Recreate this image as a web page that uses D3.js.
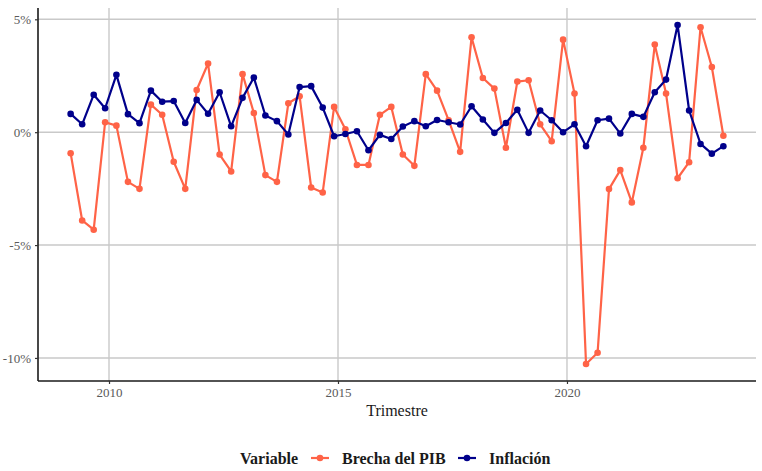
<!DOCTYPE html>
<html>
<head>
<meta charset="utf-8">
<script src="https://cdn.jsdelivr.net/npm/d3@7"></script>
<style>
  body { margin: 0; background: #fff; }
  svg text { font-family: "Liberation Serif", "Times New Roman", serif !important; }
</style>
</head>
<body>
<div id="chart"></div>
<script>
var width = 762;
var height = 471;

// quarterly dates, 2009 Q1 .. 2023 Q2
var quarters = [
  "2009-03-01","2009-06-01","2009-09-01","2009-12-01",
  "2010-03-01","2010-06-01","2010-09-01","2010-12-01",
  "2011-03-01","2011-06-01","2011-09-01","2011-12-01",
  "2012-03-01","2012-06-01","2012-09-01","2012-12-01",
  "2013-03-01","2013-06-01","2013-09-01","2013-12-01",
  "2014-03-01","2014-06-01","2014-09-01","2014-12-01",
  "2015-03-01","2015-06-01","2015-09-01","2015-12-01",
  "2016-03-01","2016-06-01","2016-09-01","2016-12-01",
  "2017-03-01","2017-06-01","2017-09-01","2017-12-01",
  "2018-03-01","2018-06-01","2018-09-01","2018-12-01",
  "2019-03-01","2019-06-01","2019-09-01","2019-12-01",
  "2020-03-01","2020-06-01","2020-09-01","2020-12-01",
  "2021-03-01","2021-06-01","2021-09-01","2021-12-01",
  "2022-03-01","2022-06-01","2022-09-01","2022-12-01",
  "2023-03-01","2023-06-01"
];

// Brecha del PIB (%)
var brecha = [
  -0.93, -3.91, -4.32, 0.44, 0.29, -2.20, -2.51, 1.22, 0.77, -1.31, -2.51,
  1.87, 3.04, -0.99, -1.74, 2.57, 0.85, -1.90, -2.20, 1.28, 1.59, -2.45,
  -2.67, 1.12, 0.13, -1.45, -1.45, 0.77, 1.12, -0.99, -1.49, 2.57, 1.84,
  0.53, -0.87, 4.20, 2.40, 1.93, -0.69, 2.24, 2.30, 0.35, -0.40, 4.10,
  1.71, -10.27, -9.77, -2.52, -1.68, -3.11, -0.69, 3.88, 1.71, -2.04,
  -1.33, 4.65, 2.89, -0.16
];

// Inflación (%)
var inflacion = [
  0.81, 0.35, 1.66, 1.06, 2.54, 0.80, 0.40, 1.84, 1.35, 1.38, 0.41,
  1.43, 0.82, 1.77, 0.26, 1.52, 2.42, 0.74, 0.49, -0.10, 2.00, 2.04,
  1.09, -0.18, -0.08, 0.04, -0.80, -0.12, -0.30, 0.25, 0.49, 0.26, 0.54,
  0.44, 0.34, 1.15, 0.56, -0.03, 0.41, 0.99, -0.03, 0.96, 0.53, 0.00,
  0.35, -0.62, 0.53, 0.60, -0.06, 0.81, 0.68, 1.77, 2.33, 4.75, 0.96,
  -0.52, -0.95, -0.62
];

var seriesNames = ["Brecha del PIB", "Inflación"];
var seriesColors = ["#ff6347", "#00008b"];
var yTicks = [5, 0, -5, -10];
var xTickYears = [2010, 2015, 2020];

var serif = "'Liberation Serif', 'Times New Roman', serif";
var margin = { left: 38, right: 6, top: 8, bottom: 90 };

var parse = d3.timeParse("%Y-%m-%d");
var dates = quarters.map(parse);

var svg = d3.select("#chart")
  .append("svg")
  .attr("width", width)
  .attr("height", height)
  .attr("font-family", serif)
  .style("background-color", "white");

// ggplot-like 5% expansion on both axes
var tExt = d3.extent(dates);
var tPad = (tExt[1] - tExt[0]) * 0.05;
var x = d3.scaleTime()
  .domain([new Date(+tExt[0] - tPad), new Date(+tExt[1] + tPad)])
  .range([margin.left, width - margin.right]);

var allVals = brecha.concat(inflacion);
var yExt = d3.extent(allVals);
var yPad = (yExt[1] - yExt[0]) * 0.05;
var y = d3.scaleLinear()
  .domain([yExt[0] - yPad, yExt[1] + yPad])
  .range([height - margin.bottom, margin.top]);

var xTicks = xTickYears.map(function (yr) { return new Date(yr, 0, 1); });

// grid
svg.append("g")
  .selectAll("line")
  .data(yTicks)
  .join("line")
  .attr("x1", margin.left)
  .attr("x2", width - margin.right)
  .attr("y1", function (d) { return y(d); })
  .attr("y2", function (d) { return y(d); })
  .attr("stroke", "#c9c9c9")
  .attr("stroke-width", 1.4);

svg.append("g")
  .selectAll("line")
  .data(xTicks)
  .join("line")
  .attr("x1", function (d) { return x(d); })
  .attr("x2", function (d) { return x(d); })
  .attr("y1", margin.top)
  .attr("y2", height - margin.bottom)
  .attr("stroke", "#c9c9c9")
  .attr("stroke-width", 1.4);

// axes
var xAxis = svg.append("g")
  .attr("transform", "translate(0," + (height - margin.bottom) + ")")
  .call(d3.axisBottom(x).tickValues(xTicks).tickFormat(d3.timeFormat("%Y")).tickSize(3).tickPadding(4));

var yAxis = svg.append("g")
  .attr("transform", "translate(" + margin.left + ",0)")
  .call(d3.axisLeft(y).tickValues(yTicks).tickFormat(function (d) { return d + "%"; }).tickSize(3).tickPadding(4));

[xAxis, yAxis].forEach(function (ax) {
  ax.attr("font-family", serif).attr("font-size", 13);
  ax.select(".domain").attr("stroke", "#1a1a1a").attr("stroke-width", 1.6);
  ax.selectAll(".tick line").attr("stroke", "#333").attr("stroke-width", 1.2);
  ax.selectAll(".tick text").attr("fill", "#5a5a5a");
});
// keep the axis lines to the panel only
xAxis.select(".domain").attr("d", "M" + margin.left + ",0H" + (width - margin.right));
yAxis.select(".domain").attr("d", "M0," + margin.top + "V" + (height - margin.bottom));

// axis title
svg.append("text")
  .attr("x", (margin.left + width - margin.right) / 2)
  .attr("y", 416)
  .attr("text-anchor", "middle")
  .attr("font-size", 16)
  .attr("fill", "#1a1a1a")
  .text("Trimestre");

// series
var series = [brecha, inflacion];
var line = d3.line()
  .x(function (d, i) { return x(dates[i]); })
  .y(function (d) { return y(d); });

series.forEach(function (vals, s) {
  var g = svg.append("g");
  g.append("path")
    .datum(vals)
    .attr("d", line)
    .attr("fill", "none")
    .attr("stroke", seriesColors[s])
    .attr("stroke-width", 2.2)
    .attr("stroke-linejoin", "round");
  g.selectAll("circle")
    .data(vals)
    .join("circle")
    .attr("cx", function (d, i) { return x(dates[i]); })
    .attr("cy", function (d) { return y(d); })
    .attr("r", 3.3)
    .attr("fill", seriesColors[s]);
});

// legend
var legend = svg.append("g").attr("transform", "translate(0,458)");
legend.append("text")
  .attr("x", 240)
  .attr("y", 5.5)
  .attr("font-size", 16)
  .attr("font-weight", "bold")
  .attr("fill", "#1a1a1a")
  .text("Variable");

var keyX = [310, 457];
seriesNames.forEach(function (name, s) {
  var k = legend.append("g").attr("transform", "translate(" + keyX[s] + ",0)");
  k.append("line")
    .attr("x1", 1).attr("x2", 19)
    .attr("stroke", seriesColors[s])
    .attr("stroke-width", 2.2);
  k.append("circle")
    .attr("cx", 10)
    .attr("r", 3.3)
    .attr("fill", seriesColors[s]);
  k.append("text")
    .attr("x", 32)
    .attr("y", 5.5)
    .attr("font-size", 16)
    .attr("font-weight", "bold")
    .attr("fill", "#1a1a1a")
    .text(name);
});
</script>
</body>
</html>
